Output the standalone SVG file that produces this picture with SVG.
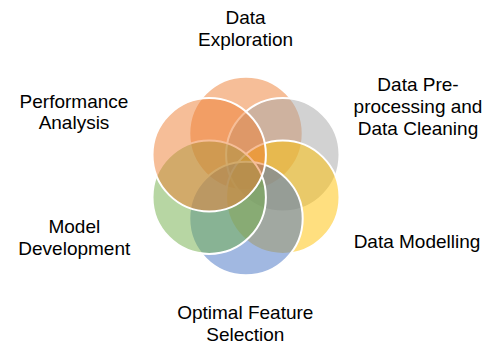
<svg xmlns="http://www.w3.org/2000/svg" width="496" height="347" viewBox="0 0 496 347">
  <style>
    .ring { fill-opacity: 0.5; stroke: #ffffff; stroke-width: 2; }
    .label { font-family: "Liberation Sans", Arial, sans-serif; font-size: 19px; fill: #000000; text-anchor: middle; }
  </style>
  <rect width="496" height="347" fill="#ffffff"/>
  <g id="connectors"/>
  <g id="data-exploration">
    <circle class="ring" cx="246" cy="133.5" r="56.7" fill="#ED7D31"/>
    <text class="label" x="245.5" y="24.3">Data</text>
    <text class="label" x="245.5" y="46">Exploration</text>
  </g>
  <g id="data-preprocessing">
    <circle class="ring" cx="282.8" cy="154.8" r="56.7" fill="#A5A5A5"/>
    <text class="label" x="418" y="91">Data Pre-</text>
    <text class="label" x="418" y="113">processing and</text>
    <text class="label" x="418" y="135">Data Cleaning</text>
  </g>
  <g id="data-modelling">
    <circle class="ring" cx="282.8" cy="197.2" r="56.7" fill="#FFC000"/>
    <text class="label" x="417" y="247.7">Data Modelling</text>
  </g>
  <g id="optimal-feature-selection">
    <circle class="ring" cx="246" cy="218.5" r="56.7" fill="#4472C4"/>
    <text class="label" x="245.3" y="319.3">Optimal Feature</text>
    <text class="label" x="245.3" y="341">Selection</text>
  </g>
  <g id="model-development">
    <circle class="ring" cx="209.2" cy="197.2" r="56.7" fill="#70AD47"/>
    <text class="label" x="74.3" y="233.3">Model</text>
    <text class="label" x="74.3" y="255">Development</text>
  </g>
  <g id="performance-analysis">
    <circle class="ring" cx="209.2" cy="154.8" r="56.7" fill="#ED7D31"/>
    <text class="label" x="74" y="107.7">Performance</text>
    <text class="label" x="74" y="129.3">Analysis</text>
  </g>
</svg>
